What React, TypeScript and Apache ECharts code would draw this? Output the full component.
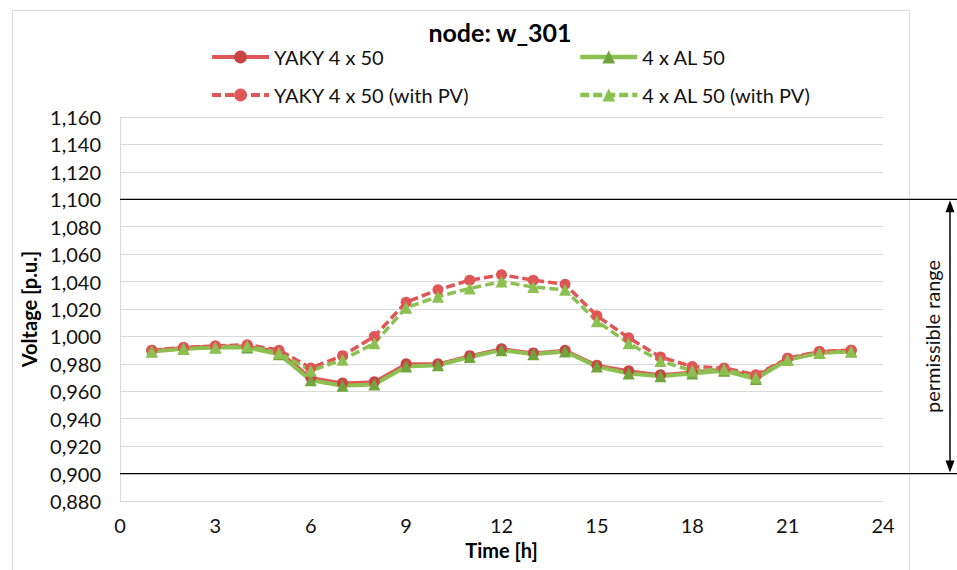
import React, { useEffect, useRef } from "react";
import * as echarts from "echarts";

const hours = [1, 2, 3, 4, 5, 6, 7, 8, 9, 10, 11, 12, 13, 14, 15, 16, 17, 18, 19, 20, 21, 22, 23];
const yaky = [0.990, 0.992, 0.993, 0.993, 0.989, 0.970, 0.966, 0.967, 0.980, 0.980, 0.986, 0.991, 0.988, 0.990, 0.979, 0.975, 0.972, 0.974, 0.976, 0.971, 0.984, 0.989, 0.990];
const al = [0.989, 0.991, 0.992, 0.992, 0.987, 0.968, 0.964, 0.965, 0.978, 0.979, 0.985, 0.990, 0.987, 0.989, 0.978, 0.973, 0.971, 0.973, 0.975, 0.969, 0.983, 0.988, 0.989];
const yakyPV = [0.990, 0.992, 0.993, 0.994, 0.990, 0.977, 0.986, 1.000, 1.025, 1.034, 1.041, 1.045, 1.041, 1.038, 1.015, 0.999, 0.985, 0.978, 0.977, 0.972, 0.984, 0.989, 0.990];
const alPV = [0.989, 0.991, 0.992, 0.993, 0.988, 0.975, 0.983, 0.995, 1.021, 1.029, 1.035, 1.040, 1.036, 1.034, 1.011, 0.995, 0.982, 0.975, 0.976, 0.970, 0.983, 0.988, 0.989];

const seriesNames = ["YAKY 4 x 50", "4 x AL 50", "YAKY 4 x 50 (with PV)", "4 x AL 50 (with PV)"];
const titleText = "node: w_301";
const yAxisTitle = "Voltage [p.u.]";
const xAxisTitle = "Time [h]";
const rangeLabel = "permissible range";
const upperLimit = 1.1;
const lowerLimit = 0.9;

const FONT = "Lato, 'Open Sans', sans-serif";
const FS = 20;
const RED = "#E05555";
const RED_DARK = "#C84545";
const GREEN = "#8CC152";
const GREEN_DARK = "#72A43C";

const pairs = (vals: number[]) => hours.map((h, i) => [h, vals[i]]);

export default function App() {
  const ref = useRef<HTMLDivElement>(null);
  useEffect(() => {
    document.body.style.margin = "0";
    const chart = echarts.init(ref.current!, null, { renderer: "svg" });
    const legendText = { fontSize: FS, fontFamily: FONT, color: "#111" };
    const legendCommon = {
      orient: "vertical",
      top: 47,
      padding: 0,
      itemWidth: 57,
      itemHeight: 16,
      itemGap: 18,
      textStyle: legendText,
    };
    chart.setOption({
      animation: false,
      backgroundColor: "#fff",
      title: {
        text: titleText,
        left: 500,
        textAlign: "center",
        top: 19,
        padding: 0,
        textStyle: { fontSize: 25, fontWeight: "bold", fontFamily: FONT, color: "#000" },
      },
      legend: [
        {
          ...legendCommon,
          data: [
            { name: seriesNames[0], lineStyle: { width: 4 } },
            { name: seriesNames[2], lineStyle: { width: 4 } },
          ],
          left: 210,
        },
        {
          ...legendCommon,
          data: [
            { name: seriesNames[1], lineStyle: { width: 4.5 } },
            { name: seriesNames[3], lineStyle: { width: 4.5 } },
          ],
          left: 578,
        },
      ],
      grid: { left: 120, right: 74, top: 117, bottom: 69 },
      xAxis: {
        type: "value",
        min: 0,
        max: 24,
        interval: 3,
        name: xAxisTitle,
        nameLocation: "middle",
        nameGap: 39,
        nameTextStyle: { fontSize: FS, fontWeight: "bold", fontFamily: FONT, color: "#000" },
        axisLine: { show: true, lineStyle: { color: "#D9D9D9", width: 1 } },
        axisTick: { show: false },
        splitLine: { show: false },
        axisLabel: { fontSize: FS, fontFamily: FONT, color: "#111", margin: 14 },
      },
      yAxis: {
        type: "value",
        min: 0.88,
        max: 1.16,
        interval: 0.02,
        name: yAxisTitle,
        nameLocation: "middle",
        nameGap: 80,
        nameTextStyle: { fontSize: FS, fontWeight: "bold", fontFamily: FONT, color: "#000" },
        axisLine: { show: true, lineStyle: { color: "#D9D9D9", width: 1 } },
        axisTick: { show: false },
        splitLine: { show: true, lineStyle: { color: "#D9D9D9", width: 1 } },
        axisLabel: {
          fontSize: FS,
          fontFamily: FONT,
          color: "#111",
          margin: 19,
          formatter: (v: number) => v.toFixed(3).replace(".", ","),
        },
      },
      series: [
        {
          name: seriesNames[0],
          type: "line",
          data: pairs(yaky),
          symbol: "circle",
          symbolSize: 11,
          lineStyle: { color: RED, width: 3 },
          itemStyle: { color: RED_DARK },
        },
        {
          name: seriesNames[1],
          type: "line",
          data: pairs(al),
          symbol: "triangle",
          symbolSize: 12,
          lineStyle: { color: GREEN, width: 4 },
          itemStyle: { color: GREEN_DARK },
        },
        {
          name: seriesNames[2],
          type: "line",
          data: pairs(yakyPV),
          symbol: "circle",
          symbolSize: 11,
          lineStyle: { color: RED, width: 3.5, type: [9, 4] },
          itemStyle: { color: RED },
        },
        {
          name: seriesNames[3],
          type: "line",
          data: pairs(alPV),
          symbol: "triangle",
          symbolSize: 12,
          lineStyle: { color: GREEN, width: 3.5, type: [9, 4] },
          itemStyle: { color: GREEN },
        },
      ],
    });

    const yU = chart.convertToPixel({ yAxisIndex: 0 }, upperLimit) as number;
    const yL = chart.convertToPixel({ yAxisIndex: 0 }, lowerLimit) as number;
    const x0 = chart.convertToPixel({ xAxisIndex: 0 }, 0) as number;
    const W = 957;
    const ax = 950;
    chart.setOption({
      graphic: [
        {
          type: "rect",
          shape: { x: 12.5, y: 10.5, width: 897, height: 570 },
          style: { fill: "none", stroke: "#D9D9D9", lineWidth: 1 },
          z: -1,
          silent: true,
        },
        {
          type: "line",
          shape: { x1: x0, y1: yU, x2: W, y2: yU },
          style: { stroke: "#000", lineWidth: 1.2 },
          z: 10,
        },
        {
          type: "line",
          shape: { x1: x0, y1: yL, x2: W, y2: yL },
          style: { stroke: "#000", lineWidth: 1.2 },
          z: 10,
        },
        {
          type: "line",
          shape: { x1: ax, y1: yU + 8, x2: ax, y2: yL - 8 },
          style: { stroke: "#000", lineWidth: 1.5 },
          z: 10,
        },
        {
          type: "polygon",
          shape: { points: [[ax, yU + 1], [ax - 4.5, yU + 13], [ax + 4.5, yU + 13]] },
          style: { fill: "#000" },
          z: 10,
        },
        {
          type: "polygon",
          shape: { points: [[ax, yL - 1], [ax - 4.5, yL - 13], [ax + 4.5, yL - 13]] },
          style: { fill: "#000" },
          z: 10,
        },
        {
          type: "text",
          x: 932,
          y: (yU + yL) / 2,
          rotation: Math.PI / 2,
          style: {
            text: rangeLabel,
            fontSize: FS,
            fontFamily: FONT,
            fill: "#111",
            align: "center",
            verticalAlign: "middle",
          },
          z: 10,
        },
      ],
    });

    return () => chart.dispose();
  }, []);
  return <div ref={ref} style={{ width: 957, height: 570 }} />;
}
